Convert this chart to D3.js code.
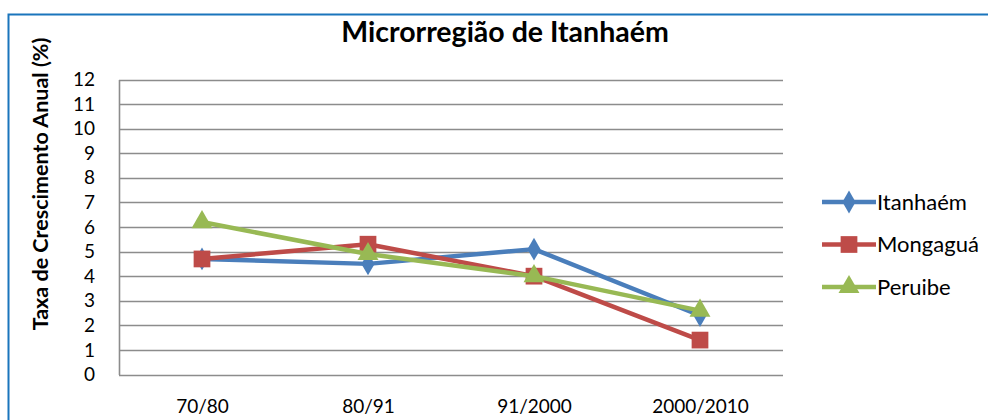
<!DOCTYPE html>
<html>
<head>
<meta charset="utf-8">
<script src="https://cdn.jsdelivr.net/npm/d3@7"></script>
<style>
  body { margin: 0; background: #fff; }
  text { font-family: Lato, "Open Sans", sans-serif; fill: #000; }
</style>
</head>
<body>
<div id="chart"></div>
<script>
/* Microrregião de Itanhaém - taxa de crescimento anual */

const categories = ["70/80", "80/91", "91/2000", "2000/2010"];
const itanhaem = [4.7, 4.5, 5.1, 2.4];
const mongagua = [4.7, 5.3, 4.0, 1.4];
const peruibe = [6.2, 4.9, 4.0, 2.6];
const yTicks = [0, 1, 2, 3, 4, 5, 6, 7, 8, 9, 10, 11, 12];

const series = [
    { name: "Itanhaém", values: itanhaem, color: "#4a7ebb", shape: d3.symbolDiamond, size: 150 },
    { name: "Mongaguá", values: mongagua, color: "#be4b48", shape: d3.symbolSquare, size: 280 },
    { name: "Peruibe", values: peruibe, color: "#98b954", shape: d3.symbolTriangle, size: 190 }
];

const width = 988,
      height = 420,
      margin = ({ top: 80, right: 205, bottom: 45, left: 119 });

let svg = d3.select("#chart")
    .append("svg")
    .attr("width", width)
    .attr("height", height);

// blue frame around the chart
svg.append("rect")
    .attr("x", 8.5)
    .attr("y", 14.5)
    .attr("width", width + 20)
    .attr("height", height + 20)
    .attr("fill", "none")
    .attr("stroke", "#1a75bc")
    .attr("stroke-width", 2);

let x = d3.scalePoint()
    .domain(categories)
    .range([margin.left, width - margin.right])
    .padding(0.5);

let y = d3.scaleLinear()
    .domain([0, 12])
    .range([height - margin.bottom - 0.5, margin.top - 0.5]);

// gridlines
svg.append("g")
    .selectAll("line")
    .data(yTicks)
    .join("line")
    .attr("x1", margin.left)
    .attr("x2", width - margin.right)
    .attr("y1", d => Math.round(y(d)) + 0.5)
    .attr("y2", d => Math.round(y(d)) + 0.5)
    .attr("stroke", "#8c8c8c")
    .attr("stroke-width", 1.6);

// y axis
let yAxis = svg.append("g")
    .attr("transform", `translate(${margin.left},0)`)
    .call(d3.axisLeft(y).tickValues(yTicks).tickSize(0).tickPadding(10));
yAxis.select(".domain").attr("stroke", "#8c8c8c").attr("stroke-width", 1.6);
yAxis.selectAll("text")
    .style("font-size", "19px")
    .style("font-family", "Lato, sans-serif")
    .attr("dx", "-14");

// x axis
let xAxis = svg.append("g")
    .attr("transform", `translate(0,${height - margin.bottom})`)
    .call(d3.axisBottom(x).tickSize(0).tickPadding(25));
xAxis.select(".domain").remove();
xAxis.selectAll("text")
    .style("font-size", "19px")
    .style("font-family", "Lato, sans-serif");

// lines and markers
let line = d3.line()
    .x((d, i) => x(categories[i]))
    .y(d => y(d));

let group = svg.selectAll(".serie")
    .data(series)
    .join("g")
    .attr("class", "serie");

group.append("path")
    .attr("d", d => line(d.values))
    .attr("fill", "none")
    .attr("stroke", d => d.color)
    .attr("stroke-width", 4.5)
    .attr("stroke-linejoin", "round");

group.each(function (s) {
    d3.select(this).selectAll("path.mark")
        .data(s.values)
        .join("path")
        .attr("class", "mark")
        .attr("d", d3.symbol().type(s.shape).size(s.size))
        .attr("transform", (d, i) => `translate(${x(categories[i])},${y(d)})`)
        .attr("fill", s.color);
});

// title
svg.append("text")
    .attr("x", 505)
    .attr("y", 42)
    .attr("text-anchor", "middle")
    .style("font-size", "28.5px")
    .style("font-weight", "bold")
    .text("Microrregião de Itanhaém");

// y axis title
svg.append("text")
    .attr("transform", "translate(48,184) rotate(-90)")
    .attr("text-anchor", "middle")
    .style("font-size", "21.5px")
    .style("font-weight", "bold")
    .text("Taxa de Crescimento Anual (%)");

// legend
let legend = svg.selectAll(".legend")
    .data(series)
    .join("g")
    .attr("class", "legend")
    .attr("transform", (d, i) => `translate(822,${202 + i * 42.5})`);

legend.append("line")
    .attr("x1", 0)
    .attr("x2", 54)
    .attr("stroke", d => d.color)
    .attr("stroke-width", 4.5);

legend.append("path")
    .attr("d", d => d3.symbol().type(d.shape).size(d.size)())
    .attr("transform", "translate(27,0)")
    .attr("fill", d => d.color);

legend.append("text")
    .attr("x", 55)
    .attr("dy", "0.35em")
    .style("font-size", "22px")
    .text(d => d.name);
</script>
</body>
</html>
